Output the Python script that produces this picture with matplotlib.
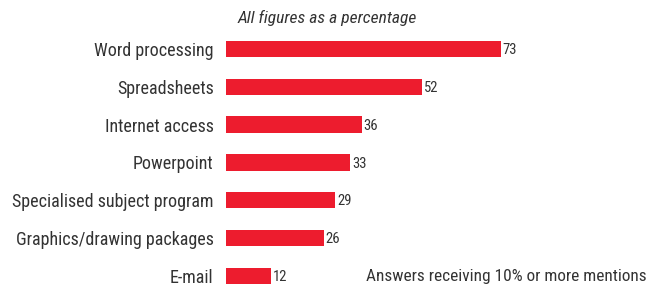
import matplotlib.pyplot as plt

plt.rcParams['font.family'] = ['Roboto Condensed', 'DejaVu Sans']

categories = ['Word processing', 'Spreadsheets', 'Internet access', 'Powerpoint',
              'Specialised subject program', 'Graphics/drawing packages', 'E-mail']
values = [73, 52, 36, 33, 29, 26, 12]

red = '#ed1c2e'
grey = '#333333'

fig = plt.figure(figsize=(6.62, 2.9), dpi=100)
ax = fig.add_axes([226 / 662, 0, 433 / 662, 260 / 290])

ypos = range(len(categories))
ax.barh(ypos, values, height=0.43, color=red)
for y, v in zip(ypos, values):
    ax.text(v + 0.5, y + 0.03, str(v), va='center', ha='left', fontsize=10.5, color=grey)

ax.set_xlim(0, 115)
ax.set_ylim(6.37, -0.5)
ax.set_yticks(list(ypos))
ax.set_yticklabels(categories, fontsize=13, color=grey)
ax.tick_params(axis='y', length=0, pad=9)
ax.set_xticks([])
for s in ax.spines.values():
    s.set_visible(False)

fig.text(327 / 662, 1 - 18 / 290, 'All figures as a percentage', style='italic',
         ha='center', va='center', fontsize=12.6, color=grey)
fig.text(647 / 662, 1 - 277 / 290, 'Answers receiving 10% or more mentions',
         ha='right', va='center', fontsize=12.4, color=grey)

fig.savefig('out.png', dpi=100)
